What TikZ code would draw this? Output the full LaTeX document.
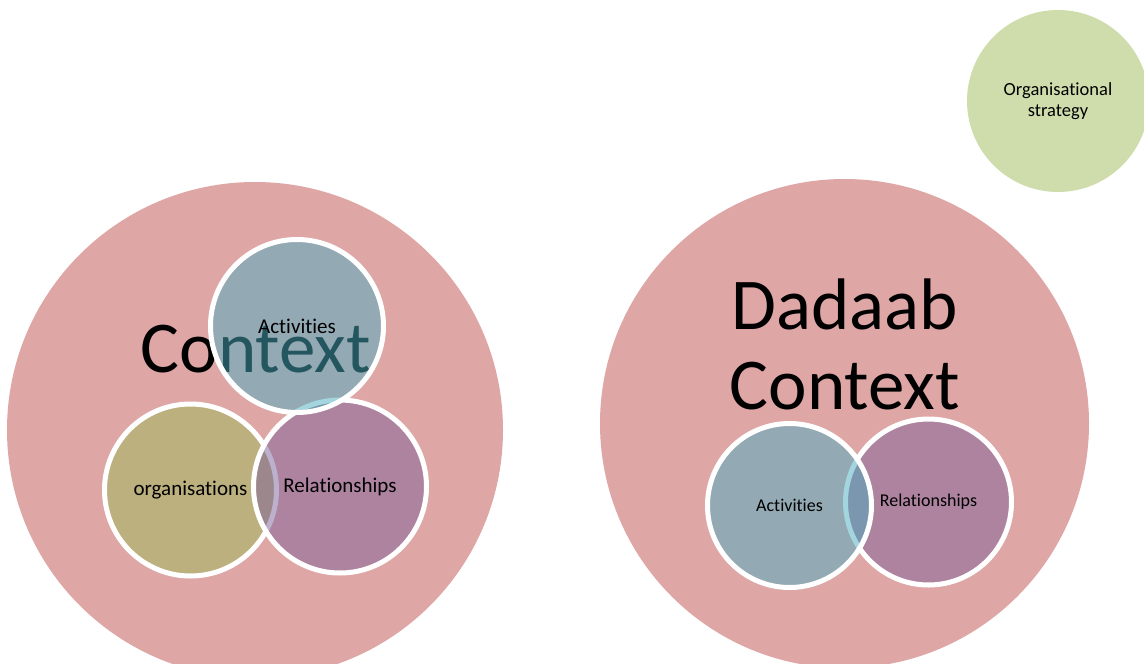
\documentclass[tikz,border=0pt]{standalone}
\usepackage{fontspec}
\setmainfont{Carlito}[Ligatures={NoCommon,NoContextual}]
\definecolor{ctxpink}{RGB}{223,166,166}
\definecolor{stratgreen}{RGB}{207,221,172}
\definecolor{orgolive}{RGB}{188,176,126}
\definecolor{relpurple}{RGB}{125,98,154}
\definecolor{actcyan}{RGB}{73,172,192}
\tikzset{
  bigdisc/.style={circle, fill=ctxpink, minimum size=#1, inner sep=0pt},
  venn/.style={circle, draw=white, line width=5pt, minimum size=#1,
    inner sep=0pt, text opacity=1, text=black},
  orgdisc/.style={venn=#1, fill=orgolive},
  reldisc/.style={venn=#1, fill=relpurple, fill opacity=0.5, draw opacity=1},
  actdisc/.style={venn=#1, fill=actcyan, fill opacity=0.5, draw opacity=1},
  bigtext/.style={font=\fontsize{73}{80}\selectfont, inner sep=0pt, anchor=base},
}
\begin{document}
\begin{tikzpicture}[x=1pt, y=-1pt]
  \useasboundingbox (0,0) rectangle (1144,664);
  \clip (0,0) rectangle (1144,664);

  % outer context discs and the strategy disc
  \node[bigdisc=496] (ctxL) at (255,430) {};
  \node[bigdisc=489] (ctxR) at (844.5,423.5) {};
  \node[circle, fill=stratgreen, minimum size=182, inner sep=0pt,
        align=center, font=\fontsize{18.5}{21}\selectfont] (strat) at (1058,101)
        {Organisational\\strategy};

  % left context: title sits beneath the overlapping circles
  \node[bigtext] (titleL) at (256,372) {Context};
  \node[orgdisc=172] (orgL) at (190.5,490) {\fontsize{21}{25}\selectfont organisations};
  \node[reldisc=173] (relL) at (340,486.5) {\fontsize{21}{25}\selectfont Relationships};
  \node[actdisc=173] (actL) at (297,326) {\fontsize{21}{25}\selectfont Activities};

  % Dadaab context
  \node[bigtext] (titleR1) at (845,329) {Dadaab};
  \node[bigtext] (titleR2) at (845,409) {Context};
  \node[reldisc=166] (relR) at (928.5,502) {\fontsize{18}{22}\selectfont Relationships};
  \node[actdisc=164] (actR) at (789.5,505.5) {\fontsize{18}{22}\selectfont Activities};
\end{tikzpicture}
\end{document}
